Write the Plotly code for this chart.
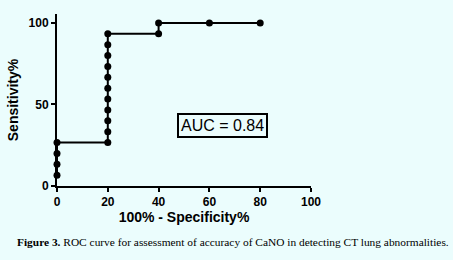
import plotly.graph_objects as go

# ROC data (100% - Specificity%, Sensitivity%)
fpr = [0, 0, 0, 0, 20, 20, 20, 20, 20, 20, 20, 20, 20, 20, 20, 40, 40, 60, 80]
tpr = [6.67, 13.33, 20.0, 26.67, 26.67, 33.33, 40.0, 46.67, 53.33, 60.0, 66.67,
       73.33, 80.0, 86.67, 93.33, 93.33, 100, 100, 100]
x_ticks = [0, 20, 40, 60, 80, 100]
y_ticks = [0, 50, 100]
auc_text = "AUC = 0.84"
caption = "<b>Figure 3.</b> ROC curve for assessment of accuracy of CaNO in detecting CT lung abnormalities."

bg = "#ebfdfd"
fig = go.Figure()
fig.add_trace(go.Scatter(
    x=fpr, y=tpr, mode="lines+markers",
    line=dict(color="black", width=2),
    marker=dict(color="black", size=7),
    cliponaxis=False, showlegend=False))

axis_font = dict(family="Liberation Sans, Arial", size=12, color="black", weight="bold")
title_font = dict(family="Liberation Sans, Arial", size=14, color="black", weight="bold")
fig.update_layout(
    width=453, height=260,
    margin=dict(l=53, r=141.5, t=14, b=74),
    paper_bgcolor=bg, plot_bgcolor=bg,
    xaxis=dict(range=[0, 100], tickvals=x_ticks, ticks="outside", ticklen=4, tickwidth=2,
               tickcolor="black", showline=True, linewidth=2, linecolor="black",
               showgrid=False, zeroline=False, tickfont=axis_font,
               title=dict(text="100% - Specificity%", standoff=3, font=title_font)),
    yaxis=dict(range=[0, 105.5], tickvals=y_ticks, ticks="outside", ticklen=4, tickwidth=2,
               tickcolor="black", showline=True, linewidth=2, linecolor="black",
               showgrid=False, zeroline=False, tickfont=axis_font,
               title=dict(text="Sensitivity%", standoff=7, font=title_font)),
    annotations=[
        dict(x=65.2, y=36.9, xref="x", yref="y", text=auc_text, showarrow=False,
             font=dict(family="Liberation Sans, Arial", size=16, color="black"),
             bordercolor="black", borderwidth=2, borderpad=2, bgcolor=bg),
        dict(xref="paper", yref="paper", x=(232 - 53) / (311.5 - 53),
             y=(186 - 242) / (186 - 14), xanchor="center", yanchor="middle",
             text=caption, showarrow=False,
             font=dict(family="Liberation Serif, serif", size=11.4, color="black")),
    ],
)
fig.write_html("out.html")
